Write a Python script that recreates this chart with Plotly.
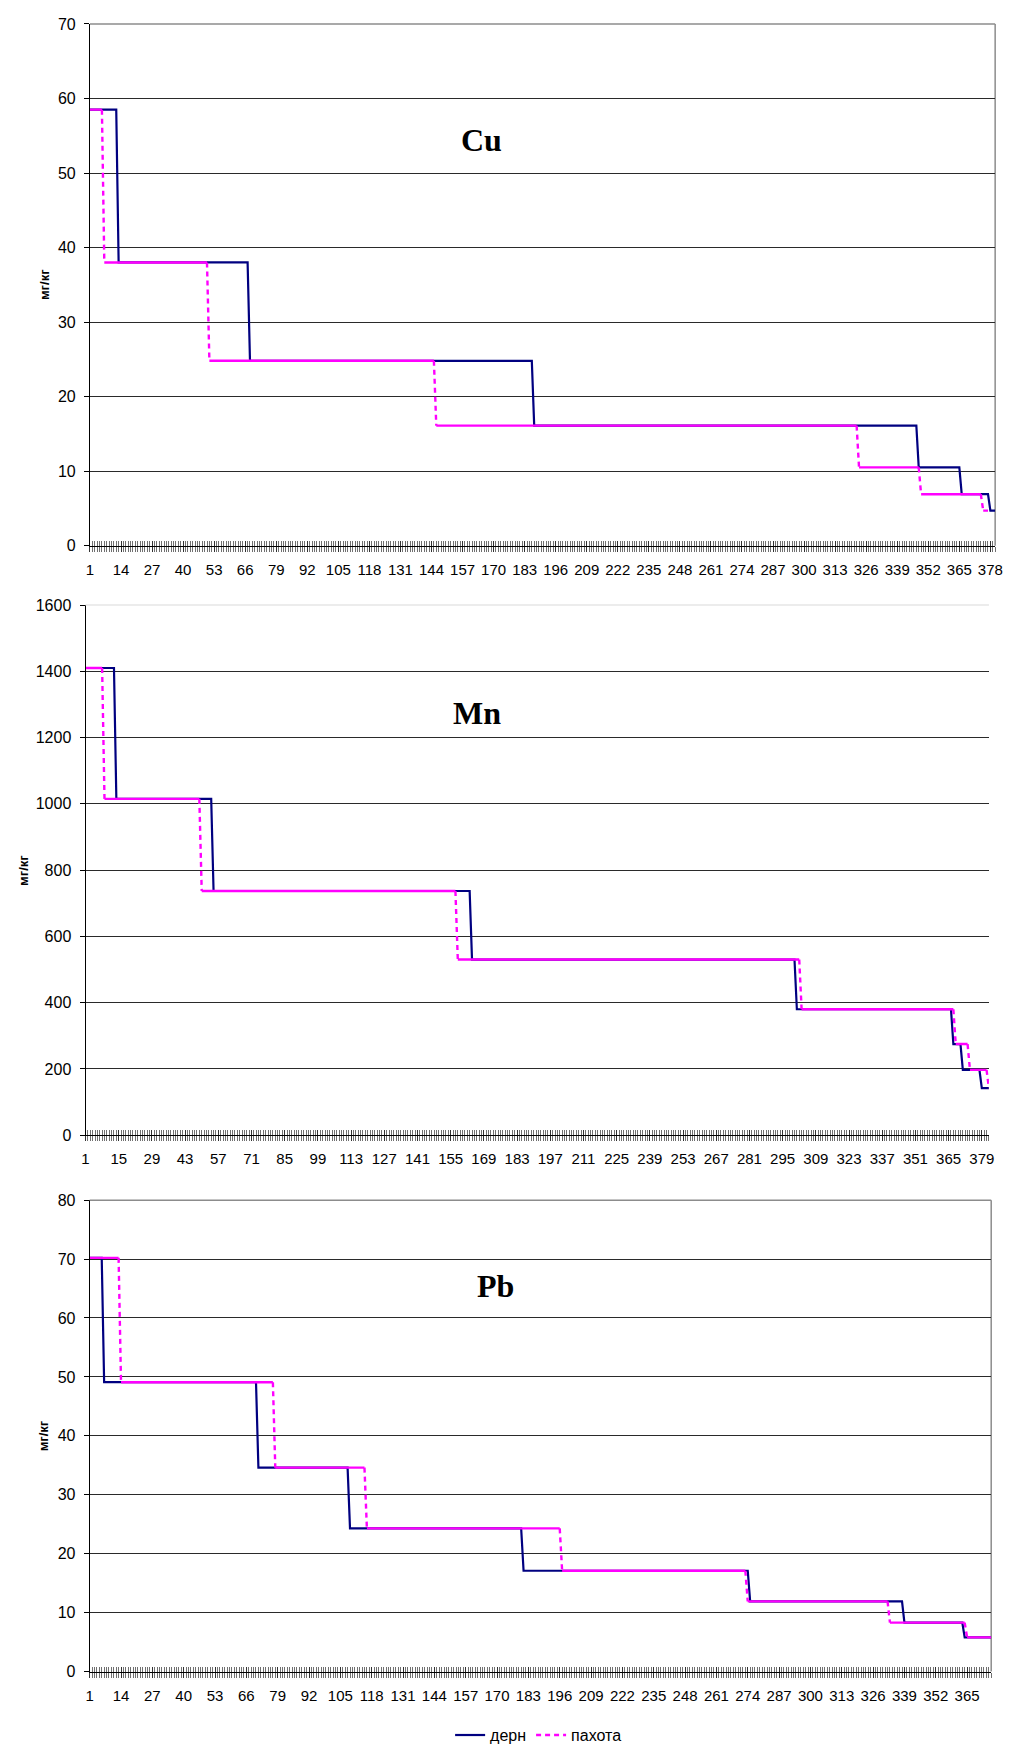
import numpy as np
import plotly.graph_objects as go

W, H = 1016, 1755

# ---------------- data (levels and run lengths) ----------------
cu_levels = [58.5, 38.0, 24.8, 16.1, 10.5, 6.9, 4.7]
cu_dern_counts = [12, 55, 119, 161, 18, 12, 3]
cu_pakh_counts = [6, 44, 95, 177, 26, 26, 3]

mn_levels = [1410, 1015, 737, 530, 380, 275, 197, 142]
mn_dern_counts = [13, 41, 109, 137, 66, 4, 8, 4]
mn_pakh_counts = [8, 41, 108, 145, 65, 6, 8, 1]

pb_levels = [70.2, 49.1, 34.6, 24.3, 17.1, 11.9, 8.3, 5.8]
pb_dern_counts = [6, 64, 38, 72, 94, 64, 25, 12]
pb_pakh_counts = [13, 64, 38, 81, 77, 59, 32, 11]

cu_tick_labels = list(range(1, 379, 13))
mn_tick_labels = list(range(1, 380, 14))
pb_tick_labels = list(range(1, 366, 13))

series_names = ["дерн", "пахота"]
panel_titles = ["Cu", "Mn", "Pb"]
y_title = "мг/кг"

DERN_COLOR = "#000080"
PAKH_COLOR = "#FF00FF"
FONT = "Arial, Liberation Sans, sans-serif"


def px_x(v):
    return v / W


def px_y(v):
    return 1 - v / H


def sfx(i):
    return "" if i == 1 else str(i)


def expand(levels, counts):
    return np.repeat(np.array(levels, dtype=float), counts)


def split_runs(yv):
    """Solid horizontal runs and dashed transitions (Excel restarts dash per segment)."""
    n = len(yv)
    sx, sy, dx, dy = [], [], [], []
    start = 0
    for i in range(1, n + 1):
        if i == n or yv[i] != yv[start]:
            if i - 1 > start:
                sx += list(range(start + 1, i + 1)) + [None]
                sy += [yv[start]] * (i - start) + [None]
            if i < n:
                dx += [i, i + 1, None]
                dy += [yv[i - 1], yv[i], None]
            start = i
    return sx, sy, dx, dy


panels = [
    dict(title="Cu", levels=cu_levels, dern=cu_dern_counts, pakh=cu_pakh_counts,
         ticks=cu_tick_labels, ymax=70, dtick=10,
         box=(87, 16.1, 1003, 542.9), title_pos=(460, 133), ytitle_x=41.7,
         top_border="#8c8c8c", right_border="#8c8c8c"),
    dict(title="Mn", levels=mn_levels, dern=mn_dern_counts, pakh=mn_pakh_counts,
         ticks=mn_tick_labels, ymax=1600, dtick=200,
         box=(82.5, 602.9, 996.7, 1138.2), title_pos=(452, 712), ytitle_x=19,
         top_border="#e6e6e6", right_border=None),
    dict(title="Pb", levels=pb_levels, dern=pb_dern_counts, pakh=pb_pakh_counts,
         ticks=pb_tick_labels, ymax=80, dtick=10,
         box=(86.7, 1203.8, 999, 1679.8), title_pos=(477, 1290), ytitle_x=40,
         top_border="#8c8c8c", right_border="#8c8c8c"),
]

fig = go.Figure()
layout = dict(
    width=W, height=H, autosize=False,
    margin=dict(l=0, r=0, t=0, b=0, pad=0),
    paper_bgcolor="white", plot_bgcolor="white",
    font=dict(family=FONT, size=15, color="black"),
    showlegend=True,
    legend=dict(orientation="h", x=541 / W, xanchor="center", y=px_y(1744), yanchor="middle",
                font=dict(size=16, family=FONT), bgcolor="rgba(0,0,0,0)",
                itemwidth=30, tracegroupgap=0),
)
annotations = []
shapes = []

for k, p in enumerate(panels):
    i = k + 1
    xa, ya = "x" + sfx(i), "y" + sfx(i)
    xo = "x" + sfx(i + 3)
    x0, y0, x1, y1 = p["box"]
    n_d = int(sum(p["dern"]))
    n_p = int(sum(p["pakh"]))
    n_max = max(n_d, n_p)

    yd = expand(p["levels"], p["dern"])
    yp = expand(p["levels"], p["pakh"])

    fig.add_trace(go.Scatter(
        x=list(range(1, n_d + 1)), y=yd, mode="lines", name=series_names[0],
        line=dict(color=DERN_COLOR, width=2.2), xaxis=xa, yaxis=ya,
        legendgroup="d", showlegend=(k == 0), hoverinfo="skip"))

    sx, sy, dx, dy = split_runs(list(yp))
    fig.add_trace(go.Scatter(
        x=sx, y=sy, mode="lines", name=series_names[1],
        line=dict(color=PAKH_COLOR, width=2.4), xaxis=xa, yaxis=ya,
        legendgroup="p", showlegend=False, hoverinfo="skip"))
    fig.add_trace(go.Scatter(
        x=dx, y=dy, mode="lines", name=series_names[1],
        line=dict(color=PAKH_COLOR, width=2.4, dash="5px,4px"), xaxis=xa, yaxis=ya,
        legendgroup="p", showlegend=(k == 0), hoverinfo="skip"))
    # dummy trace on the overlay axis (inside half of the crossing tick marks)
    fig.add_trace(go.Scatter(x=[None], y=[None], xaxis=xo, yaxis=ya,
                             showlegend=False, hoverinfo="skip"))

    xr = [1, n_max]
    layout["xaxis" + sfx(i)] = dict(
        domain=[px_x(x0), px_x(x1)], anchor=ya, range=xr, fixedrange=True,
        tickmode="array", tickvals=p["ticks"], ticktext=[str(t) for t in p["ticks"]],
        ticks="outside", ticklen=5, tickwidth=1, tickcolor="#333",
        minor=dict(tickmode="linear", tick0=1, dtick=1, ticks="outside", ticklen=5,
                   tickwidth=1, tickcolor="#707070", showgrid=False),
        showline=True, linecolor="black", linewidth=1,
        showgrid=False, zeroline=False, ticklabelstandoff=5,
        tickfont=dict(size=15, family=FONT))
    layout["xaxis" + sfx(i + 3)] = dict(
        overlaying=xa, matches=xa, anchor=ya, range=xr, fixedrange=True,
        tickmode="array", tickvals=p["ticks"], showticklabels=False,
        ticks="inside", ticklen=5, tickwidth=1, tickcolor="#333",
        minor=dict(tickmode="linear", tick0=1, dtick=1, ticks="inside", ticklen=5,
                   tickwidth=1, tickcolor="#707070", showgrid=False),
        showline=False, showgrid=False, zeroline=False)
    layout["yaxis" + sfx(i)] = dict(
        domain=[px_y(y1), px_y(y0)], anchor=xa, range=[0, p["ymax"]], fixedrange=True,
        tick0=0, dtick=p["dtick"], ticks="outside", ticklen=5, tickcolor="black",
        showline=True, linecolor="black", linewidth=1,
        showgrid=True, gridcolor="#2a2a2a", gridwidth=1, zeroline=False,
        ticklabelstandoff=5, tickfont=dict(size=16, family=FONT))

    if p["top_border"]:
        shapes.append(dict(type="line", xref=f"{xa} domain", yref=f"{ya} domain",
                           x0=0, x1=1, y0=1, y1=1,
                           line=dict(color=p["top_border"], width=1.5), layer="above"))
    if p["right_border"]:
        shapes.append(dict(type="line", xref=f"{xa} domain", yref=f"{ya} domain",
                           x0=1, x1=1, y0=0, y1=1,
                           line=dict(color=p["right_border"], width=1.5), layer="below"))

    tx, ty = p["title_pos"]
    annotations.append(dict(
        text=f"<b>{p['title']}</b>", xref="paper", yref="paper",
        x=px_x(tx), y=px_y(ty), xanchor="left", yanchor="middle", showarrow=False,
        font=dict(family="Times New Roman, Liberation Serif, serif", size=32, color="black")))
    annotations.append(dict(
        text=f"<b>{y_title}</b>", xref="paper", yref="paper", textangle=-90,
        x=px_x(p["ytitle_x"]), y=px_y((y0 + y1) / 2), xanchor="center", yanchor="middle",
        showarrow=False, font=dict(family=FONT, size=13, color="black")))

layout["annotations"] = annotations
layout["shapes"] = shapes
fig.update_layout(**layout)

fig.write_html("out.html", include_plotlyjs=True,
               config={"displayModeBar": False},
               post_script="document.body.style.margin='0px';")
